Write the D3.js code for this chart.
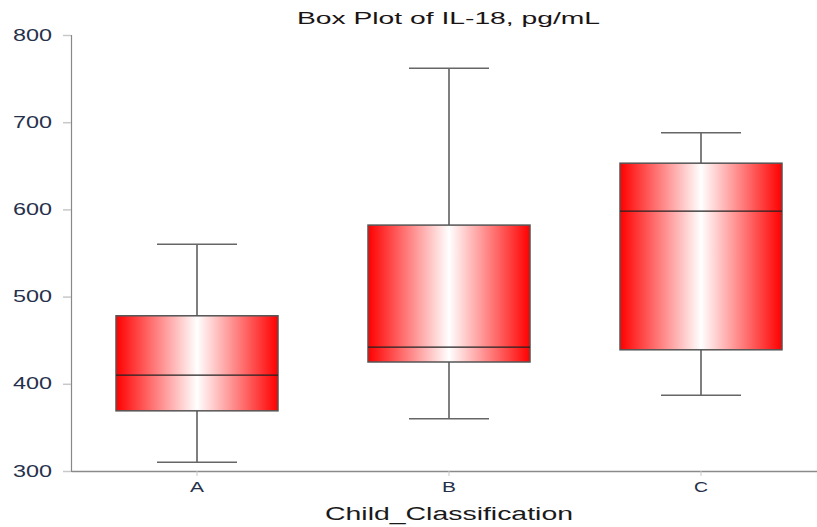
<!DOCTYPE html>
<html>
<head>
<meta charset="utf-8">
<script src="https://cdn.jsdelivr.net/npm/d3@7"></script>
<style>
  html, body { margin: 0; padding: 0; background: #fff; }
  svg { display: block; font-family: "Liberation Sans", Arial, sans-serif; }
</style>
</head>
<body>
<svg id="chart" width="817" height="527"></svg>
<script>
// Box plot summary per group
const categories = ["A", "B", "C"];
const whiskerLow  = [310, 360, 387];
const q1          = [369, 425, 439];
const median      = [410, 442, 598];
const q3          = [478, 582, 653];
const whiskerHigh = [560, 762, 688];
const yTicks = [300, 400, 500, 600, 700, 800];

const svg = d3.select("#chart");

const x = d3.scaleBand().domain(categories).range([71, 827]).padding(0);
const y = d3.scaleLinear().domain([300, 800]).range([471, 35]);

const boxW = 162, capW = 80;

// Red-white-red horizontal gradient fill
const grad = svg.append("defs").append("linearGradient")
  .attr("id", "boxFill").attr("x1", "0%").attr("x2", "100%").attr("y1", "0%").attr("y2", "0%");
grad.append("stop").attr("offset", "0%").attr("stop-color", "#ff0000");
grad.append("stop").attr("offset", "50%").attr("stop-color", "#ffffff");
grad.append("stop").attr("offset", "100%").attr("stop-color", "#ff0000");

// Wide text: stretch glyphs to a given width
function wide(sel, width) {
  sel.attr("textLength", width).attr("lengthAdjust", "spacingAndGlyphs");
}

// Title
svg.append("text")
  .attr("x", 448.5).attr("y", 24)
  .attr("text-anchor", "middle")
  .attr("font-size", 16)
  .attr("fill", "#1a1414")
  .text("Box Plot of IL-18, pg/mL")
  .call(wide, 303);

// Y axis
const yAxis = svg.append("g").attr("transform", "translate(71,0)")
  .call(d3.axisLeft(y).tickValues(yTicks).tickSize(8).tickPadding(11).tickFormat(d3.format("d")));
yAxis.select(".domain").attr("stroke", "#888").attr("stroke-width", 1.2);
yAxis.selectAll(".tick line").attr("stroke", "#c8c8c8").attr("stroke-width", 1.5);
yAxis.selectAll(".tick text").attr("font-size", 16).attr("fill", "#26304a")
  .attr("font-family", "Liberation Sans, Arial, sans-serif")
  .call(wide, 39);

// X axis
const xAxis = svg.append("g").attr("transform", "translate(0,471)")
  .call(d3.axisBottom(x).tickSize(5).tickPadding(5).tickSizeOuter(0));
xAxis.select(".domain").attr("stroke", "#8a8a8a").attr("stroke-width", 1.5);
xAxis.selectAll(".tick line").attr("stroke", "#c8c8c8");
xAxis.selectAll(".tick text").attr("font-size", 15.5).attr("fill", "#26304a")
  .attr("font-family", "Liberation Sans, Arial, sans-serif")
  .call(wide, 14);

// X axis title
svg.append("text")
  .attr("x", 449).attr("y", 520)
  .attr("text-anchor", "middle")
  .attr("font-size", 18)
  .attr("fill", "#1a1a1a")
  .text("Child_Classification")
  .call(wide, 248);

// Boxes
const data = categories.map((c, i) => ({
  c, lo: whiskerLow[i], q1: q1[i], med: median[i], q3: q3[i], hi: whiskerHigh[i]
}));

const g = svg.append("g").selectAll("g").data(data).join("g")
  .attr("transform", d => `translate(${x(d.c) + x.bandwidth() / 2},0)`);

// whisker stems
g.append("line").attr("x1", 0).attr("x2", 0)
  .attr("y1", d => y(d.hi)).attr("y2", d => y(d.q3))
  .attr("stroke", "#555").attr("stroke-width", 1.5);
g.append("line").attr("x1", 0).attr("x2", 0)
  .attr("y1", d => y(d.q1)).attr("y2", d => y(d.lo))
  .attr("stroke", "#555").attr("stroke-width", 1.5);
// caps
g.append("line").attr("x1", -capW / 2).attr("x2", capW / 2)
  .attr("y1", d => y(d.hi)).attr("y2", d => y(d.hi))
  .attr("stroke", "#666").attr("stroke-width", 1.5);
g.append("line").attr("x1", -capW / 2).attr("x2", capW / 2)
  .attr("y1", d => y(d.lo)).attr("y2", d => y(d.lo))
  .attr("stroke", "#666").attr("stroke-width", 1.5);
// box
g.append("rect")
  .attr("x", -boxW / 2).attr("width", boxW)
  .attr("y", d => y(d.q3)).attr("height", d => y(d.q1) - y(d.q3))
  .attr("fill", "url(#boxFill)")
  .attr("stroke", "#555").attr("stroke-width", 1.5);
// median
g.append("line").attr("x1", -boxW / 2).attr("x2", boxW / 2)
  .attr("y1", d => y(d.med)).attr("y2", d => y(d.med))
  .attr("stroke", "#222").attr("stroke-width", 1.3);
</script>
</body>
</html>
